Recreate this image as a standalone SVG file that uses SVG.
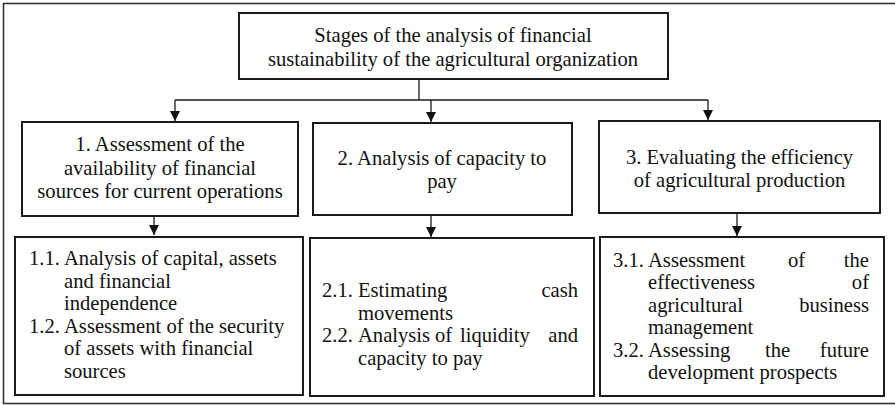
<svg xmlns="http://www.w3.org/2000/svg" width="895" height="405" viewBox="0 0 895 405">
<style>
.box{fill:#fff;stroke:#1a1a1a;stroke-width:2}
.frame{fill:none;stroke:#333;stroke-width:1.6}
.t{font-family:'Liberation Serif','DejaVu Serif','Noto Serif',serif;font-size:20.6px;fill:#111}
.c{text-anchor:middle}
.e{text-anchor:end}
.ln{fill:none;stroke:#1a1a1a;stroke-width:1.3}
</style>
<defs>
<marker id="ah" viewBox="0 0 10 10" refX="10" refY="5" markerWidth="10" markerHeight="10" markerUnits="userSpaceOnUse" orient="auto">
<path d="M0,0 L10,5 L0,10 Z" fill="#111"/>
</marker>
</defs>
<rect class="frame" x="3.5" y="3.5" width="900" height="400"/>
<g id="connectors">
<path class="ln" d="M419,79 V100"/>
<path class="ln" d="M175,100 H708"/>
<path class="ln" d="M175,100 V121" marker-end="url(#ah)"/>
<path class="ln" d="M431,100 V122" marker-end="url(#ah)"/>
<path class="ln" d="M708,100 V120" marker-end="url(#ah)"/>
<path class="ln" d="M154,216 V235" marker-end="url(#ah)"/>
<path class="ln" d="M431,215 V237" marker-end="url(#ah)"/>
<path class="ln" d="M737,213 V236" marker-end="url(#ah)"/>
</g>
<g id="root">
<rect class="box" x="239" y="13" width="429" height="66"/>
<text class="t c" x="453" y="42">Stages of the analysis of financial</text>
<text class="t c" x="453" y="66">sustainability of the agricultural organization</text>
</g>
<g id="stage1">
<rect class="box" x="22" y="122" width="276" height="94"/>
<text class="t c" x="160" y="151">1. Assessment of the</text>
<text class="t c" x="160" y="175">availability of financial</text>
<text class="t c" x="160" y="198">sources for current operations</text>
</g>
<g id="stage2">
<rect class="box" x="313" y="123" width="259" height="92"/>
<text class="t c" x="442" y="165">2. Analysis of capacity to</text>
<text class="t c" x="442" y="188">pay</text>
</g>
<g id="stage3">
<rect class="box" x="599" y="121" width="281" height="92"/>
<text class="t c" x="739.5" y="164">3. Evaluating the efficiency</text>
<text class="t c" x="739.5" y="187">of agricultural production</text>
</g>
<g id="sub1">
<rect class="box" x="15" y="237" width="288" height="158"/>
<text class="t" x="29" y="265">1.1.</text>
<text class="t" x="64" y="265">Analysis of capital, assets</text>
<text class="t" x="64" y="288">and financial</text>
<text class="t" x="64" y="310">independence</text>
<text class="t" x="29" y="333">1.2.</text>
<text class="t" x="64" y="333">Assessment of the security</text>
<text class="t" x="64" y="355">of assets with financial</text>
<text class="t" x="64" y="378">sources</text>
</g>
<g id="sub2">
<rect class="box" x="310" y="238" width="284" height="158"/>
<text class="t" x="322" y="297">2.1.</text>
<text class="t" x="358" y="297">Estimating</text>
<text class="t e" x="578" y="297">cash</text>
<text class="t" x="358" y="320">movements</text>
<text class="t" x="322" y="342">2.2.</text>
<text class="t" x="358" y="342">Analysis</text>
<text class="t" x="435" y="342">of</text>
<text class="t" x="460" y="342">liquidity</text>
<text class="t e" x="578" y="342">and</text>
<text class="t" x="358" y="365">capacity to pay</text>
</g>
<g id="sub3">
<rect class="box" x="600" y="237" width="284" height="159"/>
<text class="t" x="613" y="267">3.1.</text>
<text class="t" x="648" y="267">Assessment</text>
<text class="t" x="788" y="267">of</text>
<text class="t e" x="869" y="267">the</text>
<text class="t" x="648" y="289">effectiveness</text>
<text class="t e" x="869" y="289">of</text>
<text class="t" x="648" y="312">agricultural</text>
<text class="t e" x="869" y="312">business</text>
<text class="t" x="648" y="334">management</text>
<text class="t" x="613" y="357">3.2.</text>
<text class="t" x="648" y="357">Assessing</text>
<text class="t" x="765" y="357">the</text>
<text class="t e" x="869" y="357">future</text>
<text class="t" x="648" y="379">development prospects</text>
</g>
</svg>
